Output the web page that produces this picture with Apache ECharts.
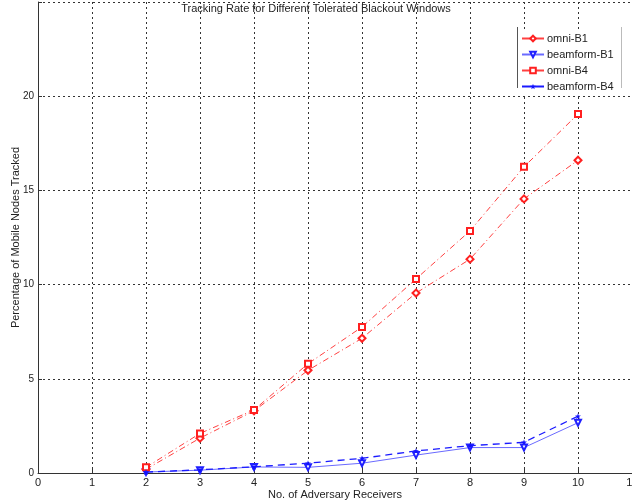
<!DOCTYPE html>
<html>
<head>
<meta charset="utf-8">
<script src="https://cdn.jsdelivr.net/npm/echarts@6/dist/echarts.min.js"></script>
<style>
  html, body { margin: 0; padding: 0; background: #fff; }
  #chart { width: 632px; height: 504px; }
</style>
</head>
<body>
<div id="chart"></div>
<script>
// Number of adversary receivers
const receivers = [2, 3, 4, 5, 6, 7, 8, 9, 10];
// Percentage of mobile nodes tracked, per scheme and blackout window
const omniB1 = [0.2, 1.85, 3.3, 5.45, 7.15, 9.55, 11.35, 14.55, 16.6];
const beamB1 = [0.05, 0.15, 0.32, 0.3, 0.52, 0.95, 1.35, 1.35, 2.67];
const omniB4 = [0.3, 2.1, 3.35, 5.8, 7.75, 10.3, 12.85, 16.25, 19.05];
const beamB4 = [0.05, 0.17, 0.33, 0.52, 0.78, 1.17, 1.45, 1.63, 3.02];
const xTicks = [0, 1, 2, 3, 4, 5, 6, 7, 8, 9, 10, 11];
const yTicks = [0, 5, 10, 15, 20, 25];

const pair = (vals) => receivers.map((r, i) => [r, vals[i]]);

const FONT = 'Liberation Sans';
// small filled five-point star
const starPath = 'path://M5,0 L6.2,3.6 L10,3.6 L6.9,5.8 L8.1,9.5 L5,7.2 L1.9,9.5 L3.1,5.8 L0,3.6 L3.8,3.6 Z';

const chart = echarts.init(document.getElementById('chart'), null, { renderer: 'canvas' });

chart.setOption({
  animation: false,
  backgroundColor: '#fff',
  textStyle: { fontFamily: FONT },
  title: {
    text: 'Tracking Rate for Different Tolerated Blackout Windows',
    left: 'center', top: -2,
    textStyle: { fontFamily: FONT, fontSize: 11, fontWeight: 'normal', color: '#222' }
  },
  grid: { left: 38, right: 0, top: 2, bottom: 31, outerBoundsMode: 'none', containLabel: false },
  legend: {
    orient: 'vertical',
    left: 519, top: 31,
    itemWidth: 22, itemHeight: 7, itemGap: 5,
    padding: [2, 6, 2, 2],
    backgroundColor: '#fff',
    textStyle: { fontFamily: FONT, fontSize: 11, color: '#222', padding: [0, 0, 0, -2] },
    lineStyle: { type: 'solid' },
    data: ['omni-B1', 'beamform-B1', 'omni-B4', 'beamform-B4']
  },
  graphic: [
    { type: 'line', z: 100, shape: { x1: 517.5, y1: 27, x2: 517.5, y2: 88 }, style: { stroke: '#555', lineWidth: 1 } },
    { type: 'line', z: 100, shape: { x1: 621.5, y1: 27, x2: 621.5, y2: 88 }, style: { stroke: '#bbb', lineWidth: 1 } }
  ],
  xAxis: {
    type: 'value',
    min: xTicks[0], max: xTicks[xTicks.length - 1], interval: 1,
    name: 'No. of Adversary Receivers',
    nameLocation: 'middle', nameGap: 16, nameMoveOverlap: false,
    nameTextStyle: { fontFamily: FONT, fontSize: 11, color: '#222' },
    axisLine: { lineStyle: { color: '#333', width: 1 } },
    axisTick: { show: true, inside: true, length: 4, lineStyle: { color: '#333' } },
    axisLabel: { fontFamily: FONT, fontSize: 11, color: '#222', margin: 4, showMaxLabel: true, hideOverlap: false },
    splitLine: { show: true, lineStyle: { color: '#333', type: [2, 3], width: 1 } }
  },
  yAxis: {
    type: 'value',
    min: yTicks[0], max: yTicks[yTicks.length - 1], interval: 5,
    name: 'Percentage of Mobile Nodes Tracked',
    nameLocation: 'middle', nameGap: 17, nameMoveOverlap: false,
    nameTextStyle: { fontFamily: FONT, fontSize: 11, color: '#222' },
    axisLine: { show: true, lineStyle: { color: '#333', width: 1 } },
    axisTick: { show: true, inside: true, length: 4, lineStyle: { color: '#333' } },
    axisLabel: { fontFamily: FONT, fontSize: 10, color: '#222', margin: 4,
      formatter: (v) => (v === 25 ? '' : String(v)) },
    splitLine: { show: true, lineStyle: { color: '#333', type: [2, 3], width: 1 } }
  },
  series: [
    {
      name: 'omni-B1', type: 'line', data: pair(omniB1),
      symbol: 'emptyDiamond', symbolSize: 7,
      itemStyle: { color: '#ff2020', borderWidth: 1 },
      lineStyle: { color: '#ff4040', width: 1, type: [6, 3, 1, 3] }
    },
    {
      name: 'beamform-B1', type: 'line', data: pair(beamB1),
      symbol: 'emptyTriangle', symbolRotate: 180, symbolSize: 6,
      itemStyle: { color: '#2020ff', borderWidth: 1 },
      lineStyle: { color: '#6a6aff', width: 1, type: 'solid' }
    },
    {
      name: 'omni-B4', type: 'line', data: pair(omniB4),
      symbol: 'emptyRect', symbolSize: 6,
      itemStyle: { color: '#ff2020', borderWidth: 1 },
      lineStyle: { color: '#ff4040', width: 1, type: [6, 3, 1, 3] }
    },
    {
      name: 'beamform-B4', type: 'line', data: pair(beamB4),
      symbol: starPath, symbolSize: 6,
      itemStyle: { color: '#1010ff' },
      lineStyle: { color: '#1a1aff', width: 1.3, type: [7, 5] }
    }
  ]
});
</script>
</body>
</html>
